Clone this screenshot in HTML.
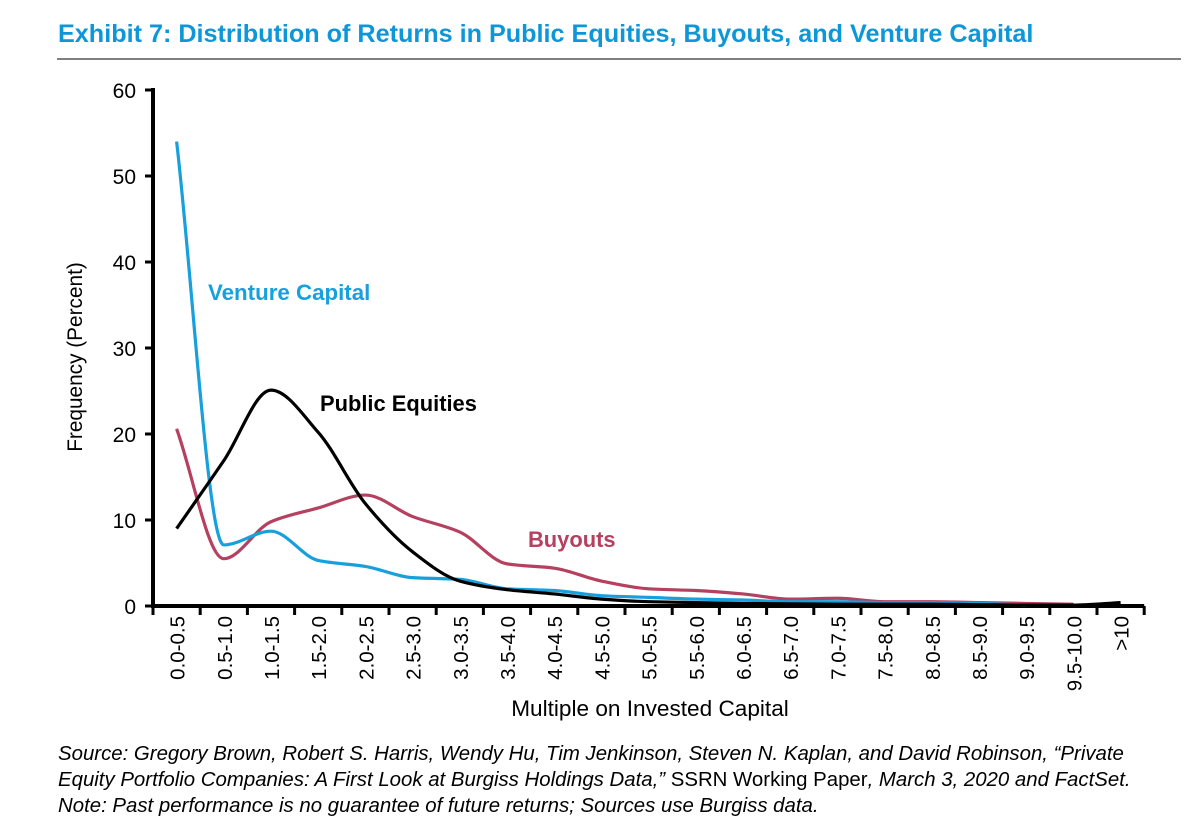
<!DOCTYPE html>
<html><head><meta charset="utf-8"><style>
body{margin:0;background:#fff;width:1198px;height:826px;overflow:hidden;font-family:"Liberation Sans",Arial,sans-serif}
svg text{font-family:"Liberation Sans",Arial,sans-serif}
</style></head><body>
<svg id="c" width="1198" height="826" xmlns="http://www.w3.org/2000/svg">
<text x="58" y="42" font-size="25.2" font-weight="bold" fill="#0d96d8">Exhibit 7: Distribution of Returns in Public Equities, Buyouts, and Venture Capital</text>
<line x1="57" y1="59" x2="1181" y2="59" stroke="#000" stroke-width="1"/>
<g id="axes"></g>
<g id="series"></g>
<text x="208" y="300" font-size="22.3" font-weight="bold" fill="#17a0dc">Venture Capital</text>
<text x="320" y="411" font-size="21.9" font-weight="bold" fill="#000">Public Equities</text>
<text x="528" y="547" font-size="21.9" font-weight="bold" fill="#b5405f">Buyouts</text>
<text transform="translate(82,357) rotate(-90)" text-anchor="middle" font-size="20.8">Frequency (Percent)</text>
<text x="650" y="716" text-anchor="middle" font-size="22.6">Multiple on Invested Capital</text>
<text x="58" y="760" font-size="20.4" font-style="italic">Source: Gregory Brown, Robert S. Harris, Wendy Hu, Tim Jenkinson, Steven N. Kaplan, and David Robinson, “Private</text>
<text x="58" y="786" font-size="20.4"><tspan font-style="italic">Equity Portfolio Companies: A First Look at Burgiss Holdings Data,”</tspan> SSRN Working Paper<tspan font-style="italic">, March 3, 2020 and FactSet.</tspan></text>
<text x="58" y="812" font-size="20.4" font-style="italic">Note: Past performance is no guarantee of future returns; Sources use Burgiss data.</text>
</svg>
<script>
const categories=["0.0-0.5","0.5-1.0","1.0-1.5","1.5-2.0","2.0-2.5","2.5-3.0","3.0-3.5","3.5-4.0","4.0-4.5","4.5-5.0","5.0-5.5","5.5-6.0","6.0-6.5","6.5-7.0","7.0-7.5","7.5-8.0","8.0-8.5","8.5-9.0","9.0-9.5","9.5-10.0",">10"];
const yTicks=[0,10,20,30,40,50,60];
const ventureCapital=[54,7.1,8.7,5.3,4.6,3.3,3.1,2.0,1.8,1.2,1.0,0.8,0.7,0.5,0.5,0.4,0.4,0.3,0.1];
const buyouts=[20.6,5.5,9.8,11.4,12.9,10.4,8.6,4.9,4.4,2.9,2.0,1.8,1.4,0.8,0.9,0.5,0.5,0.4,0.3,0.2];
const publicEquities=[9.0,16.9,25.1,20.2,11.9,6.3,2.9,1.9,1.4,0.8,0.5,0.4,0.3,0.25,0.2,0.2,0.2,0.15,0.1,0.1,0.4];
const NS="http://www.w3.org/2000/svg";
const x0=153,step=47.2,yBase=606,yTop=90;
const X=i=>x0+step*(i+0.5);
const Y=v=>yBase-(v/60)*(yBase-yTop);
const ax=document.getElementById('axes'),se=document.getElementById('series');
function mk(t,a,p){const e=document.createElementNS(NS,t);for(const k in a)e.setAttribute(k,a[k]);p.appendChild(e);return e;}
let e=mk('line',{x1:x0,y1:yTop-2,x2:x0,y2:yBase+2,stroke:'#000','stroke-width':4},ax);


e=mk('line',{x1:x0-2,y1:yBase,x2:x0+step*21,y2:yBase,stroke:'#000','stroke-width':4},ax);


yTicks.forEach(v=>{
 mk('line',{x1:x0-8,y1:Y(v),x2:x0,y2:Y(v),stroke:'#000','stroke-width':3},ax);
 const t=mk('text',{x:x0-17,y:Y(v)+8,'text-anchor':'end','font-size':21},ax);t.textContent=v;
 
 
});
for(let i=0;i<=categories.length;i++){mk('line',{x1:x0+step*i,y1:yBase,x2:x0+step*i,y2:yBase+9,stroke:'#000','stroke-width':3},ax);}
categories.forEach((c,i)=>{
 const t=mk('text',{transform:`translate(${X(i)+8},616) rotate(-90)`,'text-anchor':'end','font-size':20.5},ax);t.textContent=c;
 
 
});
function smooth(vals){
 const p=vals.map((v,i)=>[X(i),Y(v)]),n=p.length,h=step;
 const dl=[];for(let i=0;i<n-1;i++)dl.push((p[i+1][1]-p[i][1])/h);
 const m=[];for(let i=0;i<n;i++){
  if(i==0)m.push(dl[0]);else if(i==n-1)m.push(dl[n-2]);
  else if(dl[i-1]*dl[i]<=0)m.push(0);
  else m.push(2/(1/dl[i-1]+1/dl[i]));}
 let d=`M${p[0][0]},${p[0][1]}`;
 for(let i=0;i<n-1;i++){d+=` C${p[i][0]+h/3},${p[i][1]+m[i]*h/3} ${p[i+1][0]-h/3},${p[i+1][1]-m[i+1]*h/3} ${p[i+1][0]},${p[i+1][1]}`;}
 return d;}
e=mk('path',{d:smooth(buyouts),fill:'none',stroke:'#b5405f','stroke-width':3.2},se);


e=mk('path',{d:smooth(ventureCapital),fill:'none',stroke:'#17a0dc','stroke-width':3.2},se);


e=mk('path',{d:smooth(publicEquities),fill:'none',stroke:'#000','stroke-width':3.2},se);


</script>
</body></html>
